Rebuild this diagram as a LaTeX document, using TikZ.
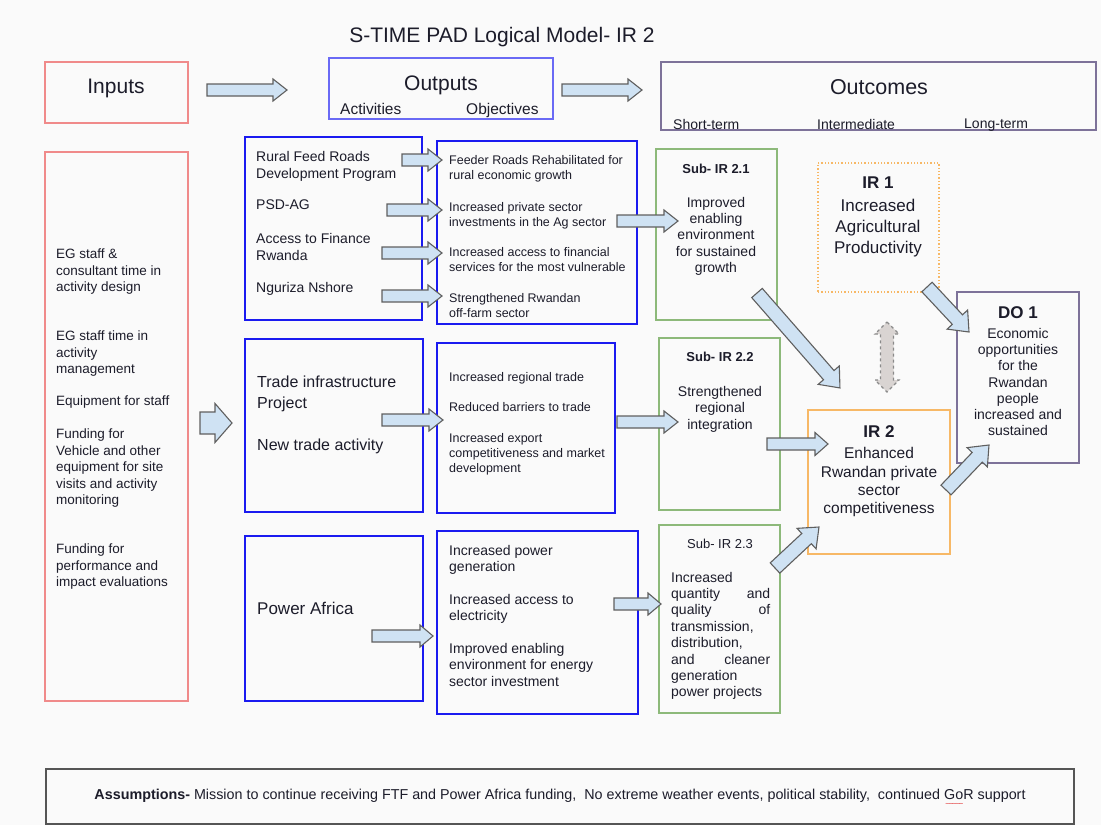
\documentclass[tikz,border=0pt]{standalone}
\usepackage{fontspec}
\setmainfont{Liberation Sans}
\usepackage{graphicx}
\usetikzlibrary{calc,fit}
\definecolor{bgc}{HTML}{FAFAFA}
\definecolor{redb}{HTML}{F08A8A}
\definecolor{blueh}{HTML}{6A6AF5}
\definecolor{blueb}{HTML}{1A1AF0}
\definecolor{purpb}{HTML}{7D7299}
\definecolor{greenb}{HTML}{8DB97A}
\definecolor{orangeb}{HTML}{F7B866}
\definecolor{arrfill}{HTML}{CFE2F3}
\definecolor{arrline}{HTML}{5F5F5F}
\definecolor{txtc}{HTML}{1C1C2A}
\definecolor{grayfill}{HTML}{D9D4D2}
\definecolor{grayline}{HTML}{8A8A8A}
\definecolor{assline}{HTML}{555555}
\definecolor{wavec}{HTML}{E03030}
\newcommand\fs[2]{\fontsize{#1}{#2}\selectfont}
\newcommand\redwave[1]{\leavevmode\rlap{\kern1pt\textcolor{wavec}{\raisebox{-6.5pt}[0pt][0pt]{\fontsize{7}{7}\selectfont\textasciitilde\kern-1pt\textasciitilde\kern-1pt\textasciitilde\kern-1pt\textasciitilde\kern-1pt\textasciitilde}}}#1}
% block arrow: [opts]{from}{to}{body half}{head half}{head length}
\newcommand\barrow[6][]{%
  \path let \p1=($(#3)-(#2)$) in \pgfextra{%
    \pgfmathsetmacro\BAang{atan2(\y1,\x1)}%
    \pgfmathsetmacro\BAlen{veclen(\x1,\y1)}%
    \xdef\BAangG{\BAang}\xdef\BAlenG{\BAlen}};
  \begin{scope}[shift={(#2)}, rotate=\BAangG, x=1pt, y=1pt]
    \draw[blockarrow,#1] (0,-#4) -- ({\BAlenG-#6},-#4) -- ({\BAlenG-#6},-#5) -- (\BAlenG,0)
      -- ({\BAlenG-#6},#5) -- ({\BAlenG-#6},#4) -- (0,#4) -- cycle;
  \end{scope}}
% double block arrow
\newcommand\bdarrow[6][]{%
  \path let \p1=($(#3)-(#2)$) in \pgfextra{%
    \pgfmathsetmacro\BAang{atan2(\y1,\x1)}%
    \pgfmathsetmacro\BAlen{veclen(\x1,\y1)}%
    \xdef\BAangG{\BAang}\xdef\BAlenG{\BAlen}};
  \begin{scope}[shift={(#2)}, rotate=\BAangG, x=1pt, y=1pt]
    \draw[blockarrow,#1] (0,0) -- (#6,#5) -- (#6,#4) -- ({\BAlenG-#6},#4) -- ({\BAlenG-#6},#5)
      -- (\BAlenG,0) -- ({\BAlenG-#6},-#5) -- ({\BAlenG-#6},-#4) -- (#6,-#4) -- (#6,-#5) -- cycle;
  \end{scope}}
\begin{document}
\begin{tikzpicture}[x=1pt,y=-1pt,
  box/.style={draw, inner sep=0pt, line width=1.2pt},
  redbox/.style={box, draw=redb, line width=1.6pt},
  hdrblue/.style={box, draw=blueh, line width=1.3pt},
  bluebox/.style={box, draw=blueb, line width=2.2pt},
  purpbox/.style={box, draw=purpb, line width=1.4pt},
  greenbox/.style={box, draw=greenb, line width=1.5pt},
  orangebox/.style={box, draw=orangeb, line width=1.5pt},
  dotbox/.style={box, draw=orangeb, line width=1.3pt, dash pattern=on 1.3pt off 2pt},
  assbox/.style={box, draw=assline, line width=1.1pt},
  blockarrow/.style={draw=arrline, fill=arrfill, line width=1.1pt, line join=miter},
  grayarrow/.style={draw=grayline, fill=grayfill, dashed, line width=1.1pt},
  lbl/.style={inner sep=0pt, text=txtc, align=left},
  clbl/.style={inner sep=0pt, text=txtc, align=center},
]
\fill[bgc] (0,0) rectangle (1101,825);
\useasboundingbox (0,0) rectangle (1101,825);

% ---------- title and header row ----------
\node[clbl, anchor=north, font=\fs{21}{25}] (title) at (502,27.2) {S-TIME PAD Logical Model- IR 2};

\node[redbox, fit={(45,62)(188,123)}] (inhdr) {};
\node[clbl, anchor=north, font=\fs{21}{25}] (inhdrt) at (116,79.2) {Inputs};

\node[hdrblue, fit={(329,58)(553,119)}] (outhdr) {};
\node[clbl, anchor=north, font=\fs{21}{25}] (outhdrt) at (441,75.2) {Outputs};
\node[lbl, anchor=north west, font=\fs{15.5}{18}] (acthdr) at (340,103.3) {Activities};
\node[lbl, anchor=north west, font=\fs{15.5}{18}] (objhdr) at (466,103.3) {Objectives};

\node[purpbox, fit={(661,62)(1096,130)}] (ochdr) {};
\node[clbl, anchor=north, font=\fs{21.5}{25}] (ochdrt) at (879,79) {Outcomes};
\node[lbl, anchor=north west, font=\fs{14}{17}] (shorth) at (673,118.8) {Short-term};
\node[lbl, anchor=north west, font=\fs{14}{17}] (interh) at (817,118.8) {Intermediate};
\node[lbl, anchor=north west, font=\fs{14}{17}] (longh) at (964,118.8) {Long-term};

\coordinate (h1s) at (207,90); \coordinate (h1e) at (287,90);
\coordinate (h2s) at (562,90); \coordinate (h2e) at (642,90);
\barrow{h1s}{h1e}{6}{11}{14}
\barrow{h2s}{h2e}{6}{11}{14}

% ---------- inputs ----------
\node[redbox, fit={(45,152)(188,701)}] (inbox) {};
\node[lbl, anchor=north west, font=\fs{13.5}{16.4}] (in1) at (56,249) {EG staff \&\\consultant time in\\activity design};
\node[lbl, anchor=north west, font=\fs{13.5}{16.4}] (in2) at (56,331) {EG staff time in\\activity\\management};
\node[lbl, anchor=north west, font=\fs{13.5}{16.4}] (in3) at (56,396) {Equipment for staff};
\node[lbl, anchor=north west, font=\fs{13.5}{16.4}] (in4) at (56,429) {Funding for\\Vehicle and other\\equipment for site\\visits and activity\\monitoring};
\node[lbl, anchor=north west, font=\fs{13.5}{16.4}] (in5) at (56,544) {Funding for\\performance and\\impact evaluations};

\coordinate (ins) at (200,423); \coordinate (ine) at (232,423);
\barrow{ins}{ine}{11}{19.5}{17}

% ---------- activities ----------
\node[bluebox, fit={(245,137)(422,320)}] (act1) {};
\node[lbl, anchor=north west, font=\fs{14}{17}] (a1t1) at (256,151) {Rural Feed Roads\\Development Program};
\node[lbl, anchor=north west, font=\fs{14}{17}] (a1t2) at (256,200) {PSD-AG};
\node[lbl, anchor=north west, font=\fs{14}{17}] (a1t3) at (256,233) {Access to Finance\\Rwanda};
\node[lbl, anchor=north west, font=\fs{14}{17}] (a1t4) at (256,282) {Nguriza Nshore};

\node[bluebox, fit={(245,339)(423,512)}] (act2) {};
\node[lbl, anchor=north west, font=\fs{16}{21}] (a2t1) at (257,376) {Trade infrastructure\\Project};
\node[lbl, anchor=north west, font=\fs{16}{21}] (a2t2) at (257,439) {New trade activity};

\node[bluebox, fit={(245,536)(423,701)}] (act3) {};
\node[lbl, anchor=north west, font=\fs{17}{20}] (a3t1) at (257,601.7) {Power Africa};

% ---------- objectives ----------
\node[bluebox, fit={(437,141)(637,324)}] (obj1) {};
\node[lbl, anchor=north west, font=\fs{12.5}{15}] (o1t1) at (449,155.4) {Feeder Roads Rehabilitated for\\rural economic growth};
\node[lbl, anchor=north west, font=\fs{12.5}{15}] (o1t2) at (449,202.4) {Increased private sector\\investments in the Ag sector};
\node[lbl, anchor=north west, font=\fs{12.5}{15}] (o1t3) at (449,247.4) {Increased access to financial\\services for the most vulnerable};
\node[lbl, anchor=north west, font=\fs{12.5}{15}] (o1t4) at (449,293.4) {Strengthened Rwandan\\off-farm sector};

\node[bluebox, fit={(437,343)(615,513)}] (obj2) {};
\node[lbl, anchor=north west, font=\fs{12.5}{15}] (o2t1) at (449,372.4) {Increased regional trade};
\node[lbl, anchor=north west, font=\fs{12.5}{15}] (o2t2) at (449,402.4) {Reduced barriers to trade};
\node[lbl, anchor=north west, font=\fs{12.5}{15}] (o2t3) at (449,433.4) {Increased export\\competitiveness and market\\development};

\node[bluebox, fit={(437,531)(638,714)}] (obj3) {};
\node[lbl, anchor=north west, font=\fs{14}{16.5}] (o3t1) at (449,544.8) {Increased power\\generation};
\node[lbl, anchor=north west, font=\fs{14}{16.5}] (o3t2) at (449,593.8) {Increased access to\\electricity};
\node[lbl, anchor=north west, font=\fs{14}{16.5}] (o3t3) at (449,642.8) {Improved enabling\\environment for energy\\sector investment};

% activity -> objective arrows
\coordinate (a1s) at (402,160); \coordinate (a1e) at (442,160);
\coordinate (a2s) at (387,210); \coordinate (a2e) at (442,210);
\coordinate (a3s) at (382,253); \coordinate (a3e) at (442,253);
\coordinate (a4s) at (382,296); \coordinate (a4e) at (442,296);
\coordinate (a5s) at (382,420); \coordinate (a5e) at (443,420);
\coordinate (a6s) at (372,636); \coordinate (a6e) at (433,636);
\barrow{a1s}{a1e}{6}{11}{14}
\barrow{a2s}{a2e}{6}{11}{14}
\barrow{a3s}{a3e}{6}{11}{14}
\barrow{a4s}{a4e}{6}{11}{14}
\barrow{a5s}{a5e}{6}{11}{14}
\barrow{a6s}{a6e}{6}{11}{13}

% ---------- sub-IRs ----------
\node[greenbox, fit={(656,149)(777,320)}] (s21) {};
\node[clbl, anchor=north, font=\bfseries\fs{13}{16}] (s21h) at (716,164.2) {Sub- IR 2.1};
\node[clbl, anchor=north, font=\fs{14}{16.3}] (s21t) at (716,196.8) {Improved\\enabling\\environment\\for sustained\\growth};

\node[greenbox, fit={(659,338)(780,510)}] (s22) {};
\node[clbl, anchor=north, font=\bfseries\fs{13}{16}] (s22h) at (720,352.2) {Sub- IR 2.2};
\node[clbl, anchor=north, font=\fs{14}{16.5}] (s22t) at (720,385.8) {Strengthened\\regional\\integration};

\node[greenbox, fit={(659,525)(780,713)}] (s23) {};
\node[clbl, anchor=north, font=\fs{13}{16}] (s23h) at (720,539.2) {Sub- IR 2.3};
\node[lbl, anchor=north west, font=\fs{14}{16.4}] (s23t) at (671,571.8) {Increased\\\makebox[99pt][s]{quantity and}\\\makebox[99pt][s]{quality of}\\transmission,\\distribution,\\\makebox[99pt][s]{and cleaner}\\generation\\power projects};

\coordinate (o1s) at (617,221); \coordinate (o1e) at (678,221);
\coordinate (o2s) at (617,422); \coordinate (o2e) at (678,422);
\coordinate (o3s) at (614,604); \coordinate (o3e) at (661,604);
\barrow{o1s}{o1e}{6}{11}{14}
\barrow{o2s}{o2e}{6}{11}{14}
\barrow{o3s}{o3e}{6}{11}{13}

% ---------- IR and DO ----------
\node[dotbox, fit={(818,163)(939,292)}] (ir1) {};
\node[clbl, anchor=north, font=\bfseries\fs{17}{20}] (ir1h) at (878,176.7) {IR 1};
\node[clbl, anchor=north, font=\fs{17}{21}] (ir1t) at (878,198.7) {Increased\\Agricultural\\Productivity};

\node[orangebox, fit={(808,410)(950,554)}] (ir2) {};
\node[clbl, anchor=north, font=\bfseries\fs{17}{20}] (ir2h) at (879,425.7) {IR 2};
\node[clbl, anchor=north, font=\fs{15.5}{18.4}] (ir2t) at (879,447.3) {Enhanced\\Rwandan private\\sector\\competitiveness};

\node[purpbox, fit={(957,292)(1079,463)}] (do1) {};
\node[clbl, anchor=north, font=\bfseries\fs{17}{20}] (do1h) at (1018,306.7) {DO 1};
\node[clbl, anchor=north, font=\fs{14}{16.3}] (do1t) at (1018,327.8) {Economic\\opportunities\\for the\\Rwandan\\people\\increased and\\sustained};

\coordinate (d1s) at (757,293); \coordinate (d1e) at (840,388);
\coordinate (d2s) at (927,287); \coordinate (d2e) at (969,332);
\coordinate (d3s) at (767,444); \coordinate (d3e) at (828,444);
\coordinate (d4s) at (775,568); \coordinate (d4e) at (819,527);
\coordinate (d5s) at (946,490); \coordinate (d5e) at (989,445);
\barrow{d1s}{d1e}{7}{14}{17}
\barrow{d2s}{d2e}{7}{14}{17}
\barrow{d3s}{d3e}{6}{11.5}{13}
\barrow{d4s}{d4e}{7}{14}{17}
\barrow{d5s}{d5e}{7}{14}{17}

\coordinate (g1) at (887,322); \coordinate (g2) at (887,392);
\bdarrow[grayarrow]{g1}{g2}{6.5}{12}{12}

% ---------- assumptions ----------
\node[assbox, fit={(46,769)(1074,824)}] (ass) {};
\node[lbl, font=\fs{13}{15}] (asst) at (560,796) {\resizebox{931pt}{!}{\textbf{Assumptions-} Mission to continue receiving FTF and Power Africa funding,\ \ No extreme weather events, political stability,\ \ continued \redwave{GoR} support}};
\end{tikzpicture}
\end{document}
